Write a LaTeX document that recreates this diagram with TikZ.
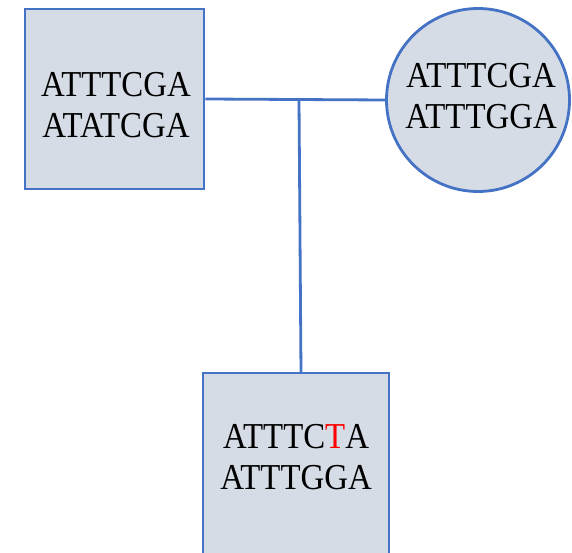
\documentclass[tikz,border=0pt]{standalone}
\usepackage{fontspec}
\setmainfont[FakeStretch=0.9]{Liberation Serif}
\definecolor{boxfill}{HTML}{D6DCE5}
\definecolor{boxline}{HTML}{4472C4}
\definecolor{mutred}{HTML}{FF0000}
\tikzset{
  shapebox/.style={draw=boxline, fill=boxfill, line width=2.8pt, inner sep=0pt},
  seqtext/.style={align=center, inner sep=0pt, font=\fontsize{36.5}{41}\selectfont, text=black},
  link/.style={draw=boxline, line width=2.8pt}
}
\begin{document}
\begin{tikzpicture}[x=1pt, y=-1pt]
\useasboundingbox (0,0) rectangle (572,553);
\clip (0,0) rectangle (572,553);
% shapes
\node[shapebox, rectangle, minimum width=179pt, minimum height=180pt] (s1) at (114.5,99) {};
\node[shapebox, circle, minimum size=183pt] (c1) at (478,100) {};
\node[shapebox, rectangle, minimum width=186pt, minimum height=186pt] (s3) at (296,466) {};
% texts
\node[seqtext] (t1) at (116,105.5) {ATTTCGA\\ATATCGA};
\node[seqtext] (t2) at (481,96.5) {ATTTCGA\\ATTTGGA};
\node[seqtext] (t3) at (296,457) {ATTTC{\color{mutred}T}A\\ATTTGGA};
% connectors
\coordinate (j) at (299,100.5);
\coordinate (k) at (301,373);
\draw[link] (s1.east) -- (c1.west);
\draw[link] (j) -- (k);
\end{tikzpicture}
\end{document}
